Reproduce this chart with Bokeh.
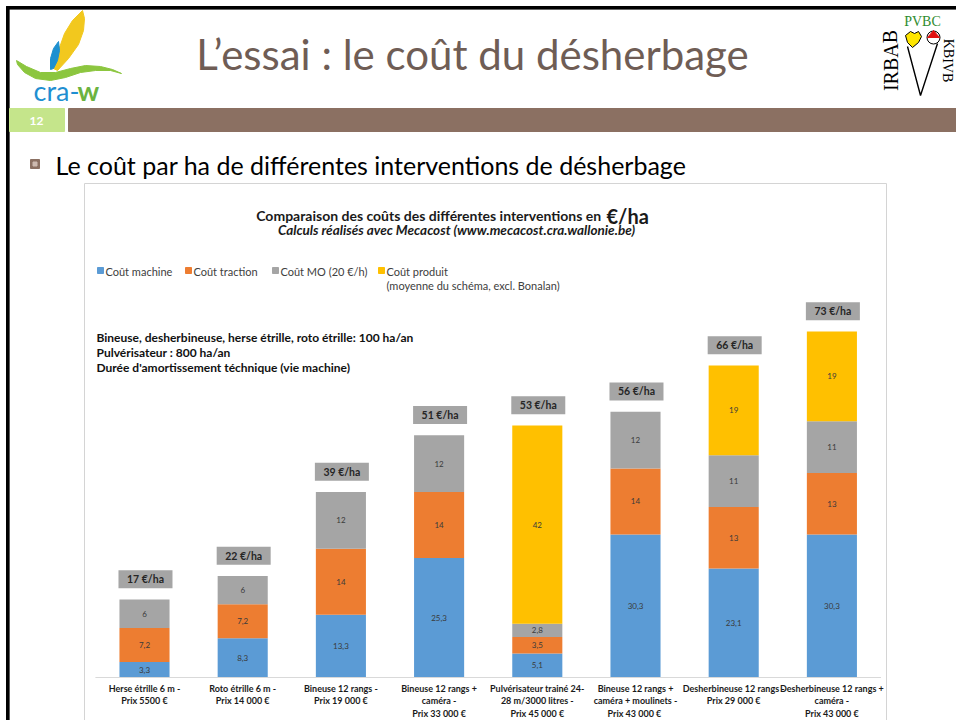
from bokeh.plotting import figure
from bokeh.models import Range1d, ColumnDataSource
from bokeh.embed import file_html
from bokeh.resources import INLINE
from bokeh.core.properties import value

# ---------------- data ----------------
categories = [
    "Herse étrille 6 m -\nPrix 5500 €",
    "Roto étrille 6 m -\nPrix 14 000 €",
    "Bineuse 12 rangs -\nPrix 19 000 €",
    "Bineuse 12 rangs +\ncaméra -\nPrix 33 000 €",
    "Pulvérisateur trainé 24-\n28 m/3000 litres -\nPrix 45 000 €",
    "Bineuse 12 rangs +\ncaméra + moulinets -\nPrix 43 000  €",
    "Desherbineuse 12 rangs -\nPrix 29 000 €",
    "Desherbineuse 12 rangs +\ncaméra -\nPrix 43 000 €",
]
cout_machine = [3.3, 8.3, 13.3, 25.3, 5.1, 30.3, 23.1, 30.3]
cout_traction = [7.2, 7.2, 14, 14, 3.5, 14, 13, 13]
cout_mo = [6, 6, 12, 12, 2.8, 12, 11, 11]
cout_produit = [0, 0, 0, 0, 42, 0, 19, 19]
total_labels = ["17 €/ha", "22 €/ha", "39 €/ha", "51 €/ha", "53 €/ha", "56 €/ha", "66 €/ha", "73 €/ha"]
series_names = ["Coût machine", "Coût traction", "Coût MO (20 €/h)", "Coût produit"]
series_colors = ["#5b9bd5", "#ed7d31", "#a5a5a5", "#ffc000"]
notes = [
    "Bineuse, desherbineuse, herse étrille, roto étrille:  100 ha/an",
    "Pulvérisateur : 800 ha/an",
    "Durée d'amortissement téchnique (vie machine)",
]

# ---------------- layout constants (page pixels) ----------------
W, H = 956, 720
OX, OY = 0, 0
BAR0_X, BAR_STEP = 144.0, 98.2
BASE_Y, PPU = 677.0, 4.72
FONT = "Lato"

p = figure(width=W, height=H, title=None,
           x_range=Range1d(OX, OX + W), y_range=Range1d(OY + H, OY),
           output_backend="svg", toolbar_location=None,
           x_axis_type=None, y_axis_type=None, min_border=0,
           outline_line_color=None, background_fill_color="white",
           border_fill_color="white")
p.extra_x_ranges = {"cat": Range1d((OX - BAR0_X) / BAR_STEP, (OX + W - BAR0_X) / BAR_STEP)}
p.extra_y_ranges = {"val": Range1d((BASE_Y - (OY + H)) / PPU, (BASE_Y - OY) / PPU)}


def T(x, y, s, size, color="#000000", style="normal", align="left",
      baseline="middle", font=FONT, angle=0.0):
    p.text(x=[x], y=[y], text=[s], text_font=value(font),
           text_font_size=f"{size}px", text_color=color,
           text_font_style=style, text_align=align,
           text_baseline=baseline, angle=angle)


# ---------------- slide decorations ----------------
# black frame
p.quad(left=[6], right=[8.6], top=[6], bottom=[OY + H], color="black")
p.quad(left=[6], right=[OX + W], top=[6], bottom=[8.6], color="black")

# cra-w logo
p.patch([53, 58, 64, 72, 82, 84, 83, 78, 68, 57],
        [68, 50, 33, 20, 10, 18, 30, 44, 58, 70], color="#f2c81e")
p.patch([50, 50, 53, 58, 59, 57, 53], [69, 58, 48, 41, 50, 60, 68], color="#1e90d0")
p.patch([16, 26, 40, 55, 70, 85, 100, 112, 121, 110, 95, 80, 65, 50, 35, 24, 17],
        [60, 66, 72, 72, 68, 65, 66, 69, 73, 70, 70, 72, 77, 80, 78, 72, 64],
        color="#8cc63f")
T(33, 90, "cra-", 27, color="#1f8fd1")
T(77, 90, "w", 27, color="#6cb33f", style="bold")

# IRBAB / PVBC logo
T(890, 60, "IRBAB", 20, color="#000000", align="center", font="Liberation Serif", angle=1.5708)
T(922, 21, "PVBC", 14, color="#2e8b2e", align="center", font="Liberation Serif")
p.patch([905, 910, 914, 918, 921, 918, 912, 907], [35, 31, 33, 31, 36, 42, 47, 42],
        fill_color="#ffe600", line_color="black")
p.circle(x=[933], y=[37], radius=6.5, fill_color="white", line_color="black")
p.patch([927, 933, 939], [37, 30, 37], color="#e01010")
p.line([907, 920, 937], [46, 95, 43], line_color="black", line_width=1.4)
T(947.5, 60, "KBIVB", 14, color="#000000", align="center", font="Liberation Serif", angle=-1.5708)

# slide number + brown bar
p.quad(left=[9], right=[64], top=[108], bottom=[131], color="#c5e58b")
T(36, 120, "12", 12, color="white", style="bold", align="center")
p.quad(left=[68], right=[OX + W], top=[108], bottom=[131], color="#8b7062")

# slide title
T(472, 53, "L’essai : le coût du désherbage", 42, color="#6f5d55", align="center")

# bullet line
p.quad(left=[30], right=[39], top=[159], bottom=[168], color="#8b7062")
p.quad(left=[32.5], right=[36.5], top=[161.5], bottom=[165.5], color="#cdbab0")
T(55, 164, "Le coût par ha de différentes interventions de désherbage", 25, color="#000000")

# chart picture frame
p.quad(left=[84], right=[886], top=[183], bottom=[OY + H + 5],
       fill_color="white", line_color="#d4d4d4", line_width=1)

# chart titles
T(604, 215, "Comparaison des coûts des différentes interventions en ", 14,
  color="#1a1a1a", style="bold", align="right", baseline="alphabetic")
T(606, 215, "€/ha", 20, color="#1a1a1a", style="bold", baseline="alphabetic")
T(456, 229, "Calculs réalisés avec Mecacost (www.mecacost.cra.wallonie.be)", 13.5,
  color="#1a1a1a", style="bold italic", align="center")

# legend
leg_x = [97, 185, 272, 378]
for lx, name, col in zip(leg_x, series_names, series_colors):
    p.quad(left=[lx], right=[lx + 6], top=[267], bottom=[273], color=col)
    T(lx + 8, 270.5, name, 11, color="#404040")
T(386, 285, "(moyenne du schéma, excl. Bonalan)", 11, color="#404040")

# notes
for k, line in enumerate(notes):
    T(96, 337 + 15 * k, line, 12, color="#111111", style="bold")

# ---------------- stacked bars ----------------
idx = list(range(len(categories)))
src = ColumnDataSource(dict(x=idx, machine=cout_machine, traction=cout_traction,
                            mo=cout_mo, produit=cout_produit))
p.vbar_stack(["machine", "traction", "mo", "produit"], x="x", width=0.51,
             color=series_colors, line_color=None, source=src,
             x_range_name="cat", y_range_name="val")

# baseline
p.line(x=[-0.5, len(categories) - 0.5], y=[0, 0], line_color="#d9d9d9",
       line_width=1, x_range_name="cat", y_range_name="val")

# segment labels
lx, ly, lt = [], [], []
for i in idx:
    bottom = 0.0
    for v in (cout_machine[i], cout_traction[i], cout_mo[i], cout_produit[i]):
        if v > 0:
            lx.append(i)
            ly.append(bottom + v / 2)
            lt.append(f"{v:g}".replace(".", ","))
        bottom += v
p.text(x=lx, y=ly, text=lt, text_font=value(FONT), text_font_size="8px",
       text_color="#3a3a3a", text_align="center", text_baseline="middle",
       x_range_name="cat", y_range_name="val")

# total boxes
totals = [a + b + c + d for a, b, c, d in zip(cout_machine, cout_traction, cout_mo, cout_produit)]
box_y = [t + 4.3 for t in totals]
p.rect(x=[i + 0.01 for i in idx], y=box_y, width=54, height=18,
       width_units="screen", height_units="screen", fill_color="#a5a5a5",
       line_color=None, x_range_name="cat", y_range_name="val")
p.text(x=[i + 0.01 for i in idx], y=box_y, text=total_labels, text_font=value(FONT),
       text_font_size="10.5px", text_font_style="bold", text_color="#262626",
       text_align="center", text_baseline="middle",
       x_range_name="cat", y_range_name="val")

# category labels
p.text(x=idx, y=[682] * len(idx), text=categories, text_font=value(FONT),
       text_font_size="9px", text_font_style="bold", text_color="#1a1a1a",
       text_align="center", text_baseline="top", text_line_height=1.15,
       x_range_name="cat")

open("out.html", "w").write(file_html(p, INLINE))
